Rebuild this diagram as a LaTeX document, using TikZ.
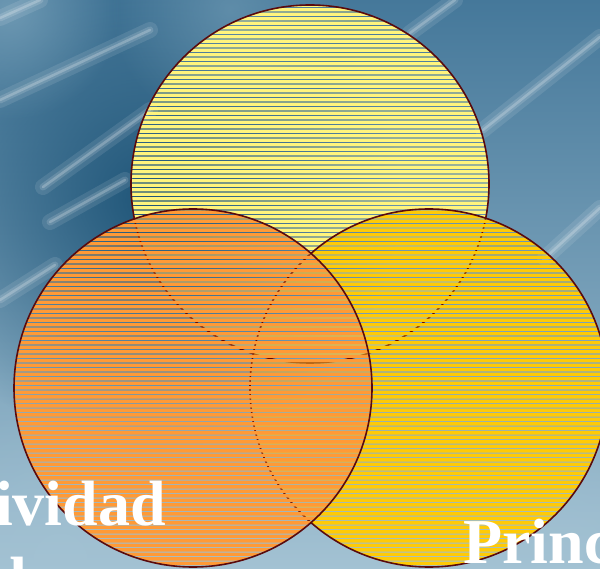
\documentclass[tikz,border=0pt]{standalone}
\usepackage{fontspec}
\setmainfont{Liberation Serif}
\usetikzlibrary{fadings}
\definecolor{bgtop}{HTML}{45789A}
\definecolor{bgmid}{HTML}{5E8DA9}
\definecolor{bgbot}{HTML}{A3C2D3}
\definecolor{bgdark}{HTML}{1F5578}
\definecolor{bglight}{HTML}{7FA7BE}
\definecolor{topyellow}{HTML}{FFF47C}
\definecolor{leftorange}{HTML}{FF9A36}
\definecolor{rightgold}{HTML}{FFCA06}
\definecolor{rimred}{HTML}{5A0A0C}
\tikzfading[name=softblob, inner color=transparent!0, outer color=transparent!100]
\tikzset{
  rim/.style={draw=rimred, line width=1.6pt},
  streakglow/.style={white, line cap=round, opacity=0.10, line width=16pt},
  streak/.style={white, line cap=round, opacity=0.14, line width=7pt},
  streakcore/.style={white, line cap=round, opacity=0.22, line width=2.5pt},
  bigtext/.style={text=white, font=\fontsize{64}{76}\selectfont\bfseries, inner sep=0pt}
}
\begin{document}
\begin{tikzpicture}[x=1pt,y=-1pt]
\useasboundingbox (0,0) rectangle (600,569);
% background
\shade[top color=bgtop, middle color=bgmid, bottom color=bgbot] (0,0) rectangle (600,569);
\fill[bgdark, path fading=softblob] (150,200) circle[radius=250pt];
\fill[bglight, path fading=softblob, opacity=0.7] (10,10) circle[radius=110pt];
\fill[bglight, path fading=softblob, opacity=0.5] (230,10) circle[radius=120pt];
\fill[bgbot, path fading=softblob, opacity=0.6] (60,560) circle[radius=160pt];
\fill[bgbot, path fading=softblob, opacity=0.6] (560,560) circle[radius=140pt];
% streaks
\foreach \a/\b in {{(0,100)}/{(150,30)}, {(43,187)}/{(150,110)}, {(50,222)}/{(125,180)}, {(0,18)}/{(40,0)}, {(600,37)}/{(483,130)}, {(410,33)}/{(455,0)}, {(600,208)}/{(545,258)}, {(0,300)}/{(55,265)}} {
  \draw[streakglow] \a -- \b;
  \draw[streak] \a -- \b;
  \draw[streakcore] \a -- \b;
}
% top circle
\begin{scope}
  \clip (310,184) circle[radius=179pt];
  \fill[topyellow] \foreach \k in {-1,...,127} { (-5,{3.7+4.5*\k}) rectangle (605,{7+4.5*\k}) };
\end{scope}
\draw[rim] (310,184) circle[radius=179pt];
% right circle
\begin{scope}
  \clip (429,388) circle[radius=179pt];
  \fill[rightgold] \foreach \k in {-1,...,127} { (-5,{3.7+4.5*\k}) rectangle (605,{7+4.5*\k}) };
\end{scope}
\draw[rim] (429,388) circle[radius=179pt];
% left circle
\begin{scope}
  \clip (193,388) circle[radius=179pt];
  \fill[leftorange] \foreach \k in {-1,...,127} { (-5,{3.7+4.5*\k}) rectangle (605,{7+4.5*\k}) };
\end{scope}
\draw[rim] (193,388) circle[radius=179pt];
% texts
\node[bigtext, anchor=base east] (t1) at (166,525) {ividad};
\node[bigtext, anchor=base west] (t2) at (-9,601) {d};
\node[bigtext, anchor=base west] (t3) at (463,563) {Princ};
\end{tikzpicture}
\end{document}
